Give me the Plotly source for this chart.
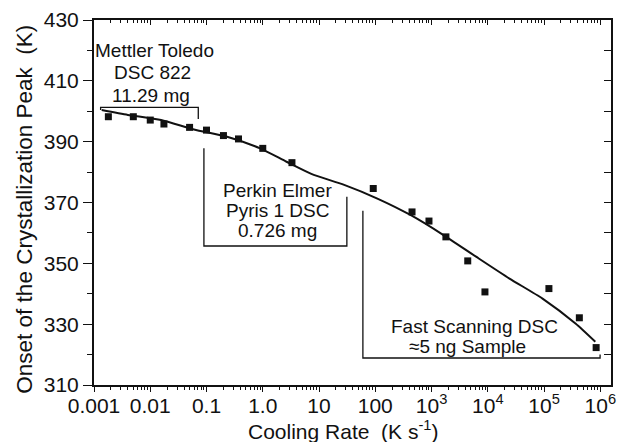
import plotly.graph_objects as go

# Measured onset of crystallization vs cooling rate
rate = [0.0018, 0.005, 0.01, 0.0175, 0.05, 0.1, 0.2, 0.37, 1.0, 3.3,
        92, 450, 900, 1800, 4400, 8900, 122000, 424000, 843000]
onset = [398.2, 398.2, 397.1, 395.8, 394.7, 393.8, 392.0, 390.9, 387.8, 383.1,
         374.6, 366.9, 363.9, 358.7, 350.8, 340.6, 341.7, 332.1, 322.3]

# Smoothed trend line through the combined data sets
fit_rate = [0.00137, 0.004, 0.0156, 0.06, 0.232, 0.9, 2.64, 7.3, 28, 109,
            421, 1630, 6290, 24300, 94000, 362000, 815000]
fit_onset = [400.4, 398.8, 397.1, 394.0, 391.6, 387.8, 383.4, 379.4, 375.8, 371.3,
             365.9, 359.3, 352.1, 345.0, 338.4, 330.2, 324.2]

tick_vals = [0.001, 0.01, 0.1, 1, 10, 100, 1e3, 1e4, 1e5, 1e6]
tick_text = ["0.001", "0.01", "0.1", "1.0", "10", "100",
             "10<sup>3</sup>", "10<sup>4</sup>", "10<sup>5</sup>", "10<sup>6</sup>"]

FONT = "Liberation Sans, Arial, sans-serif"
INK = "#111111"
W, H = 622, 442
L, R, T, B = 94, 6, 20, 57
PW, PH = W - L - R, H - T - B
X_RANGE = [-3, 6.19]
Y_RANGE = [310, 430]


def px(x):
    return (x - L) / PW


def py(y):
    return (H - B - y) / PH


fig = go.Figure()
fig.add_trace(go.Scatter(x=fit_rate, y=fit_onset, mode="lines",
                         line=dict(color=INK, width=2, shape="spline", smoothing=0.6),
                         hoverinfo="skip"))
fig.add_trace(go.Scatter(x=rate, y=onset, mode="markers",
                         marker=dict(symbol="square", size=7, color=INK)))
# empty trace so the mirrored top/right axes get drawn
fig.add_trace(go.Scatter(x=[], y=[], xaxis="x2", yaxis="y2"))

axis_common = dict(showline=True, linecolor=INK, linewidth=2, showgrid=False,
                   zeroline=False, tickcolor=INK, tickwidth=1.2)

fig.update_layout(
    width=W, height=H,
    margin=dict(l=L, r=R, t=T, b=B),
    paper_bgcolor="white", plot_bgcolor="white",
    showlegend=False,
    font=dict(family=FONT, color=INK),
    xaxis=dict(type="log", range=X_RANGE, tickvals=tick_vals, ticktext=tick_text,
               ticks="outside", ticklen=5, ticklabelstandoff=-4,
               minor=dict(ticks="outside", ticklen=3, dtick="D1", tickcolor=INK),
               tickfont=dict(size=21, family=FONT, color=INK), **axis_common),
    yaxis=dict(range=Y_RANGE, tickvals=[310, 330, 350, 370, 390, 410, 430],
               ticks="outside", ticklen=9,
               minor=dict(ticks="outside", ticklen=5, dtick=10, tickcolor=INK),
               tickfont=dict(size=21, family=FONT, color=INK), **axis_common),
    xaxis2=dict(type="log", range=X_RANGE, overlaying="x", side="top", anchor="y",
                tickvals=tick_vals, showticklabels=False, ticks="inside", ticklen=5,
                minor=dict(ticks="inside", ticklen=3, dtick="D1", tickcolor=INK),
                **axis_common),
    yaxis2=dict(range=Y_RANGE, overlaying="y", side="right", anchor="x",
                dtick=10, showticklabels=False, ticks="inside", ticklen=7,
                **axis_common),
)

# Axis titles
fig.add_annotation(text="Onset of the Crystallization Peak\u00a0 (K)", textangle=-90,
                   xref="paper", yref="paper", x=px(23), y=py(209),
                   xanchor="center", yanchor="middle", showarrow=False,
                   font=dict(size=22.5, family=FONT, color=INK))
fig.add_annotation(text="Cooling Rate\u00a0 (K s<sup>-1</sup>)",
                   xref="paper", yref="paper", x=px(345), y=py(429.5),
                   xanchor="center", yanchor="middle", showarrow=False,
                   font=dict(size=21, family=FONT, color=INK))

# Instrument labels
labels = [
    ("Mettler Toledo", 155, 50), ("DSC 822", 153, 73), ("11.29 mg", 152, 95),
    ("Perkin Elmer", 279, 190), ("Pyris 1 DSC", 279, 210), ("0.726 mg", 279, 230),
    ("Fast Scanning DSC", 478, 326), ("\u22485 ng Sample", 471, 346),
]
for text, x, y in labels:
    fig.add_annotation(text=text, xref="paper", yref="paper", x=px(x), y=py(y),
                       xanchor="center", yanchor="middle", showarrow=False,
                       font=dict(size=19, family=FONT, color=INK))

# Range brackets for each instrument
brackets = [
    [(100.7, 110), (100.7, 107.3), (199.3, 107.3), (199.3, 119)],
    [(205, 148.3), (205, 246), (349.3, 246), (349.3, 196.7)],
    [(365.5, 210.7), (365.5, 358), (605, 358), (605, 354.5)],
]
for pts in brackets:
    path = "M " + " L ".join(f"{px(a):.4f},{py(b):.4f}" for a, b in pts)
    fig.add_shape(type="path", path=path, xref="paper", yref="paper",
                  line=dict(color=INK, width=1.3))

fig.write_html("out.html")
